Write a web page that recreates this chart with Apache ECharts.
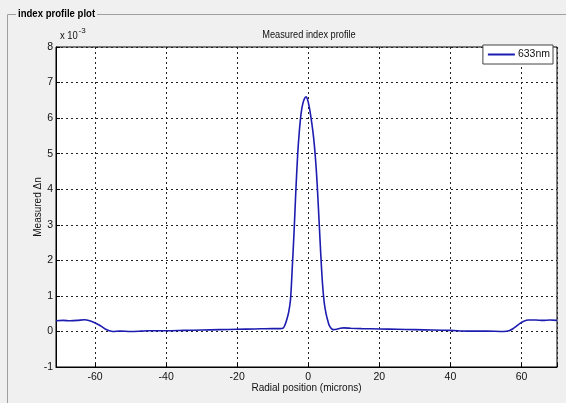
<!DOCTYPE html>
<html>
<head>
<meta charset="utf-8">
<script src="https://cdn.jsdelivr.net/npm/echarts@6/dist/echarts.min.js"></script>
<style>
html,body{margin:0;padding:0;background:#f0f0f0;}
#c{width:566px;height:403px;}
</style>
</head>
<body>
<div id="c"></div>
<script>
// Radial position (microns)
var radialPos = [-71,-69,-67,-65,-63,-61.5,-60,-59,-58,-57,-56,-55,-53,-50,-47,-45,-40,-35,-30,-25,-20,-15,-10,-8,-7,-6.5,-6,-5.5,-5,-4.5,-4,-3.5,-3,-2.5,-2,-1.5,-1,-0.6,-0.2,0.3,1,1.5,2,2.5,3,3.5,4,4.5,5,5.5,6,7,8,9,10,12,15,20,25,30,35,40,45,50,55,56.5,57.5,58.5,59.5,60.5,62,64,66,68,70];
// Measured index difference (x 10^-3), 633nm
var deltaN633 = [0.30,0.31,0.30,0.31,0.33,0.30,0.24,0.19,0.13,0.06,0.02,0.00,0.01,0.00,0.01,0.02,0.02,0.03,0.04,0.05,0.06,0.07,0.08,0.08,0.10,0.20,0.35,0.55,0.90,1.80,2.80,3.95,4.95,5.65,6.15,6.42,6.56,6.60,6.52,6.30,5.85,5.45,4.90,4.15,3.18,2.20,1.35,0.80,0.50,0.30,0.15,0.05,0.06,0.09,0.10,0.09,0.08,0.07,0.06,0.05,0.04,0.03,0.01,0.01,0.00,0.02,0.07,0.14,0.22,0.28,0.32,0.32,0.31,0.32,0.31];
var xTickLabels = [-60,-40,-20,0,20,40,60];
var yTickLabels = [-1,0,1,2,3,4,5,6,7,8];

var FONT = '"Liberation Sans", Arial, sans-serif';
var chart = echarts.init(document.getElementById('c'));
var grid = {left:56, right:9, top:47, bottom:36};
var pts = radialPos.map(function(x,i){return [x, deltaN633[i]];});
var gridLine = {show:true, lineStyle:{color:'#222', type:[2,3], width:1}};
chart.setOption({
  backgroundColor:'#f0f0f0',
  animation:false,
  grid: Object.assign({show:true, backgroundColor:'#fff', borderColor:'#000', borderWidth:1}, grid),
  legend:{
    data:[{name:'633nm', icon:'rect'}], right:13, top:45, orient:'vertical',
    backgroundColor:'#fff', borderColor:'#444', borderWidth:1, borderRadius:0,
    padding:[4,3,4,5], itemWidth:27, itemHeight:2, itemGap:0,
    textStyle:{fontFamily:FONT, fontSize:10.5, color:'#111', lineHeight:11, padding:[0,0,0,-2]}
  },
  xAxis:{
    type:'value', min:-71, max:70, splitNumber:7,
    name:'Radial position (microns)', nameLocation:'middle', nameGap:16, nameMoveOverlap:false,
    nameTextStyle:{fontFamily:FONT, fontSize:10, color:'#111'},
    axisLine:{show:true, onZero:false, lineStyle:{color:'#000'}},
    axisTick:{inside:true, length:4, lineStyle:{color:'#000'}},
    axisLabel:{fontFamily:FONT, fontSize:10.5, color:'#111', margin:5,
      formatter:function(v){return xTickLabels.indexOf(Math.round(v))>=0 && Math.abs(v-Math.round(v))<1e-6 ? String(Math.round(v)) : '';}},
    splitLine:gridLine
  },
  yAxis:{
    type:'value', min:-1, max:8, interval:1,
    name:'Measured \u0394n', nameLocation:'middle', nameGap:13, nameMoveOverlap:false,
    nameTextStyle:{fontFamily:FONT, fontSize:10, color:'#111'},
    axisLine:{show:true, onZero:false, lineStyle:{color:'#000'}},
    axisTick:{inside:true, length:4, lineStyle:{color:'#000'}},
    axisLabel:{fontFamily:FONT, fontSize:10.5, color:'#111', margin:3,
      formatter:function(v){return yTickLabels.indexOf(v)>=0 ? String(v) : '';}},
    splitLine:gridLine
  },
  graphic:[
    {type:'line', shape:{x1:7.5,y1:14.5,x2:16,y2:14.5}, style:{stroke:'#a0a0a0', lineWidth:1}},
    {type:'line', shape:{x1:97,y1:14.5,x2:566,y2:14.5}, style:{stroke:'#a0a0a0', lineWidth:1}},
    {type:'line', shape:{x1:7.5,y1:14.5,x2:7.5,y2:403}, style:{stroke:'#a0a0a0', lineWidth:1}},
    {type:'text', x:18, y:14, scaleX:0.87, style:{text:'index profile plot', font:'bold 11px '+FONT, fill:'#000', textVerticalAlign:'middle'}},
    {type:'text', x:309, y:35, scaleX:0.84, style:{text:'Measured index profile', font:'11px '+FONT, fill:'#111', textAlign:'center', textVerticalAlign:'middle'}},
    {type:'text', x:60, y:36, scaleX:0.86, style:{text:'x 10', font:'11px '+FONT, fill:'#111', textVerticalAlign:'middle'}},
    {type:'text', x:78.5, y:31, style:{text:'-3', font:'8px '+FONT, fill:'#111', textVerticalAlign:'middle'}}
  ],
  series:[{
    name:'633nm', type:'line', data:pts, smooth:0.3, symbol:'none',
    lineStyle:{color:'#1c1cb0', width:1.6}, itemStyle:{color:'#1c1cb0'}
  }]
});
</script>
</body>
</html>
